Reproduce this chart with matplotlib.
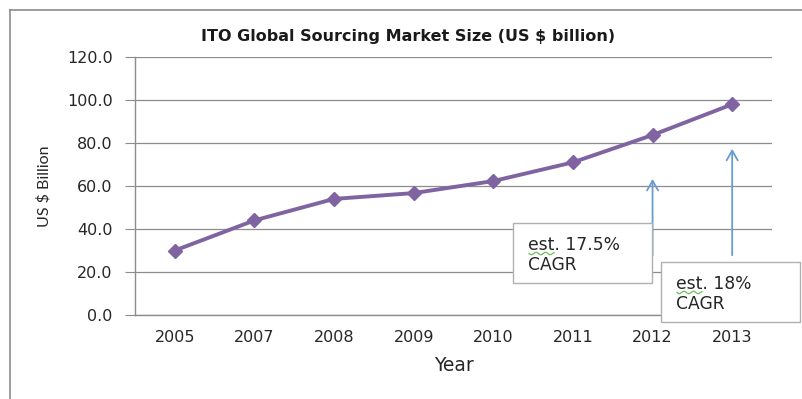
import matplotlib
matplotlib.use("Agg")
import numpy as np
import matplotlib.pyplot as plt
from matplotlib.lines import Line2D
from matplotlib.patches import Rectangle

years = ["2005", "2007", "2008", "2009", "2010", "2011", "2012", "2013"]
market_size = [30.0, 44.0, 54.0, 56.7, 62.3, 71.0, 83.7, 98.0]
y_ticks = [0, 20, 40, 60, 80, 100, 120]
notes = ["est. 17.5%\nCAGR", "est. 18%\nCAGR"]

W, H = 802, 399
fig = plt.figure(figsize=(W / 100, H / 100), dpi=100)
fig.patch.set_facecolor("white")

# outer chart border (left + top)
fig.add_artist(Line2D([10 / W, 10 / W], [0, 1 - 10 / H], color="#8c8c8c", lw=1.2))
fig.add_artist(Line2D([10 / W, 1], [1 - 10 / H, 1 - 10 / H], color="#8c8c8c", lw=1.2))

ax = fig.add_axes([135 / W, 84 / H, (772 - 135) / W, (315 - 57) / H])
x = list(range(len(years)))
ax.plot(x, market_size, color="#8064A2", lw=2.8, marker="D", markersize=7,
        markeredgecolor="#8064A2", markerfacecolor="#8064A2", zorder=5)

ax.set_xlim(-0.5, len(years) - 0.5)
ax.set_ylim(0, 120)
ax.set_yticks(y_ticks)
ax.set_yticklabels([f"{v:.1f}" for v in y_ticks], fontsize=11.5, family="DejaVu Sans", color="#262626")
ax.set_xticks(x)
ax.set_xticklabels(years, fontsize=11.5, family="DejaVu Sans", color="#262626")
ax.tick_params(axis="x", length=0, pad=11)
ax.tick_params(axis="y", length=7, color="#8c8c8c", direction="out", pad=9)
ax.yaxis.grid(True, color="#8c8c8c", lw=0.9)
ax.set_axisbelow(True)
for s in ["top", "right"]:
    ax.spines[s].set_visible(False)
for s in ["left", "bottom"]:
    ax.spines[s].set_color("#8c8c8c")
    ax.spines[s].set_linewidth(1.0)

ax.set_ylabel("US $ Billion", family="Lato", fontsize=11.5, labelpad=11, color="#262626")
ax.set_xlabel("Year", family="DejaVu Sans", fontsize=13.5, labelpad=8, color="#262626")
fig.text(408 / W, 1 - 36 / H, "ITO Global Sourcing Market Size (US $ billion)",
         family="DejaVu Sans", fontweight="bold", fontsize=11.5, ha="center", va="center",
         color="#1a1a1a")

# arrows
arrow_color = "#6a9bd1"
for xi, tip in [(6, 64.6), (7, 78.6)]:
    ax.annotate("", xy=(xi, tip), xytext=(xi, 26.5),
                arrowprops=dict(arrowstyle="->,head_length=0.7,head_width=0.4",
                                color=arrow_color, lw=1.3))

# text boxes
boxes = [(513, 223, 652, 283), (661, 262, 800, 322)]
for (x0, y0, x1, y1), note in zip(boxes, notes):
    fig.add_artist(Rectangle((x0 / W, 1 - y1 / H), (x1 - x0) / W, (y1 - y0) / H,
                             transform=fig.transFigure, facecolor="white",
                             edgecolor="#b0b0b0", lw=1.0, zorder=10))
    fig.text((x0 + 15) / W, 1 - (y0 + 32) / H, note, family="DejaVu Sans", fontsize=12.3,
             ha="left", va="center", linespacing=1.15, zorder=11, color="#262626")
    # spell-check squiggle under "est"
    sx = np.linspace(x0 + 16, x0 + 41, 40)
    sy = y0 + 30.5 + 1.2 * np.sin((sx - sx[0]) / 1.5)
    fig.add_artist(Line2D(sx / W, 1 - sy / H, color="#6bbf59", lw=0.9, zorder=12))

fig.savefig("out.png", dpi=100)
